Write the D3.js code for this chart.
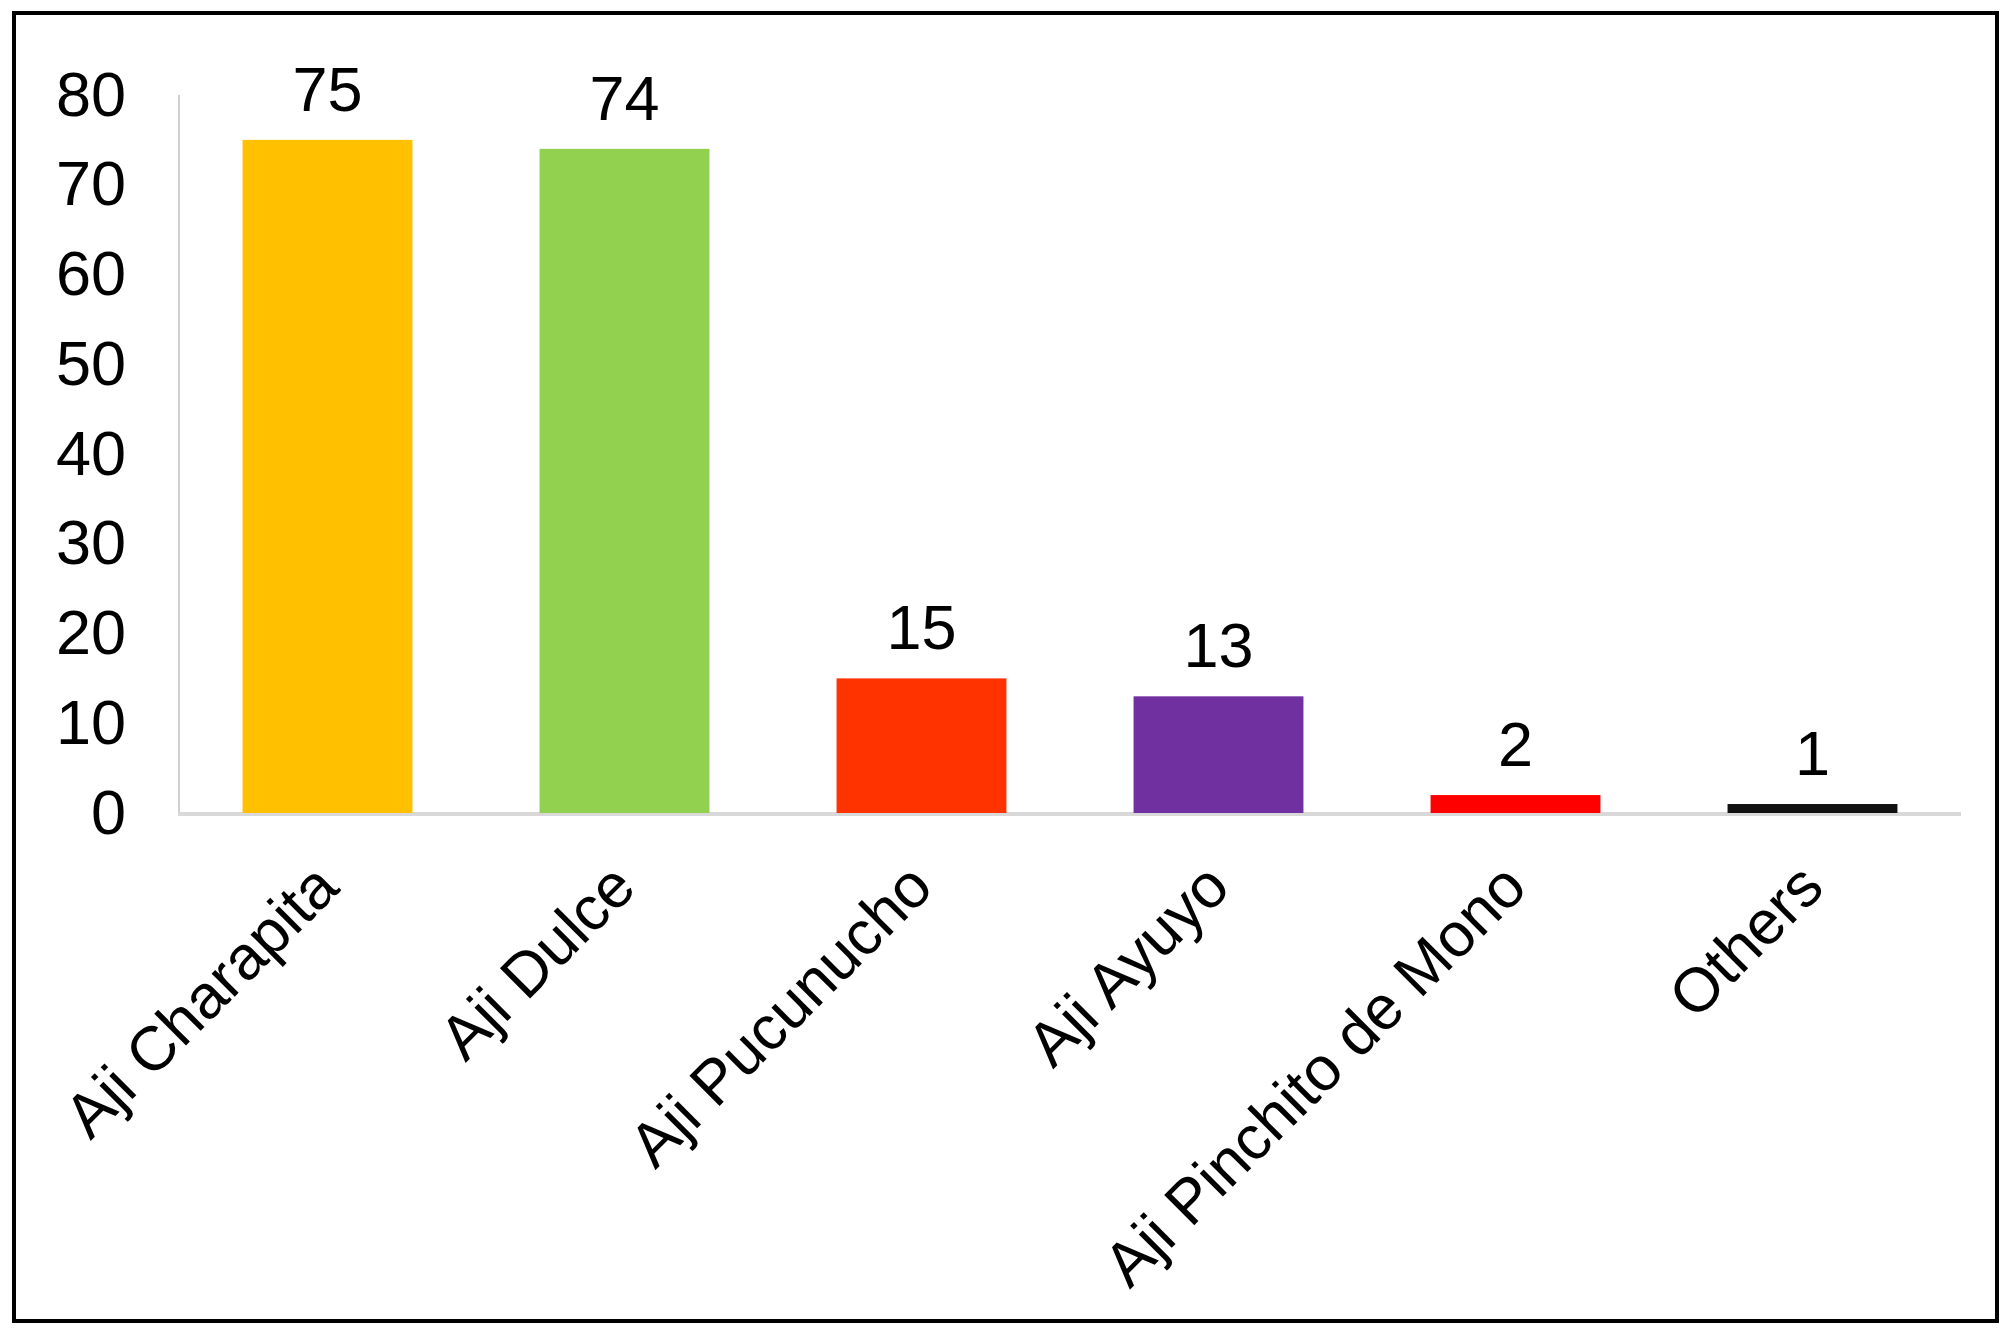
<!DOCTYPE html>
<html>
<head>
<meta charset="utf-8">
<script src="https://cdn.jsdelivr.net/npm/d3@7"></script>
<style>
  html, body { margin: 0; padding: 0; background: #fff; }
  svg text { font-family: "Liberation Sans", Arial, sans-serif; fill: #000; }
</style>
</head>
<body>
<svg id="chart" width="2012" height="1340"></svg>
<script>
// chart data
var categories = ["Aji Charapita", "Aji Dulce", "Aji Pucunucho", "Aji Ayuyo", "Aji Pinchito de Mono", "Others"];
var counts = [75, 74, 15, 13, 2, 1];
var barColors = ["#FFC000", "#92D050", "#FF3300", "#7030A0", "#FF0000", "#111111"];
var yTicks = [0, 10, 20, 30, 40, 50, 60, 70, 80];

var svg = d3.select("#chart");
var x0 = 179, x1 = 1961, yBase = 813, yTop = 95;

// outer frame
svg.append("rect")
    .attr("x", 14).attr("y", 13)
    .attr("width", 1983).attr("height", 1308)
    .attr("fill", "none")
    .attr("stroke", "#000")
    .attr("stroke-width", 4);

var x = d3.scaleBand()
    .domain(categories)
    .range([x0, x1])
    .paddingInner(0.428)
    .paddingOuter(0.214);

var y = d3.scaleLinear()
    .domain([0, 80])
    .range([yBase, yTop]);

// y axis labels, no ticks
var yAxis = svg.append("g")
    .attr("transform", "translate(" + x0 + ",0)")
    .call(d3.axisLeft(y).tickValues(yTicks).tickSize(0).tickPadding(53));
yAxis.select(".domain").remove();
yAxis.selectAll("text")
    .attr("dy", "0.32em")
    .style("font-size", "63px")
    .style("font-family", "'Liberation Sans', Arial, sans-serif")
    .attr("fill", "#000");

// left axis line
svg.append("line")
    .attr("x1", x0).attr("x2", x0)
    .attr("y1", yTop).attr("y2", yBase)
    .attr("stroke", "#d0d0d0")
    .attr("stroke-width", 2);

// baseline
svg.append("line")
    .attr("x1", x0 - 1).attr("x2", x1)
    .attr("y1", yBase + 1).attr("y2", yBase + 1)
    .attr("stroke", "#d9d9d9")
    .attr("stroke-width", 4);

// bars
svg.selectAll("rect.bar")
    .data(counts)
    .enter().append("rect")
    .attr("class", "bar")
    .attr("x", function (d, i) { return x(categories[i]); })
    .attr("y", function (d) { return y(d); })
    .attr("width", x.bandwidth())
    .attr("height", function (d) { return yBase - y(d); })
    .attr("fill", function (d, i) { return barColors[i]; });

// value labels
svg.selectAll("text.val")
    .data(counts)
    .enter().append("text")
    .attr("class", "val")
    .attr("x", function (d, i) { return x(categories[i]) + x.bandwidth() / 2; })
    .attr("y", function (d) { return y(d) - 29; })
    .attr("text-anchor", "middle")
    .style("font-size", "63px")
    .text(function (d) { return d; });

// rotated category labels
svg.selectAll("text.cat")
    .data(categories)
    .enter().append("text")
    .attr("class", "cat")
    .attr("text-anchor", "end")
    .attr("transform", function (d) {
        var cx = x(d) + x.bandwidth() / 2;
        return "translate(" + (cx + 14) + "," + (yBase + 77) + ") rotate(-45)";
    })
    .style("font-size", "62px")
    .text(function (d) { return d; });
</script>
</body>
</html>
